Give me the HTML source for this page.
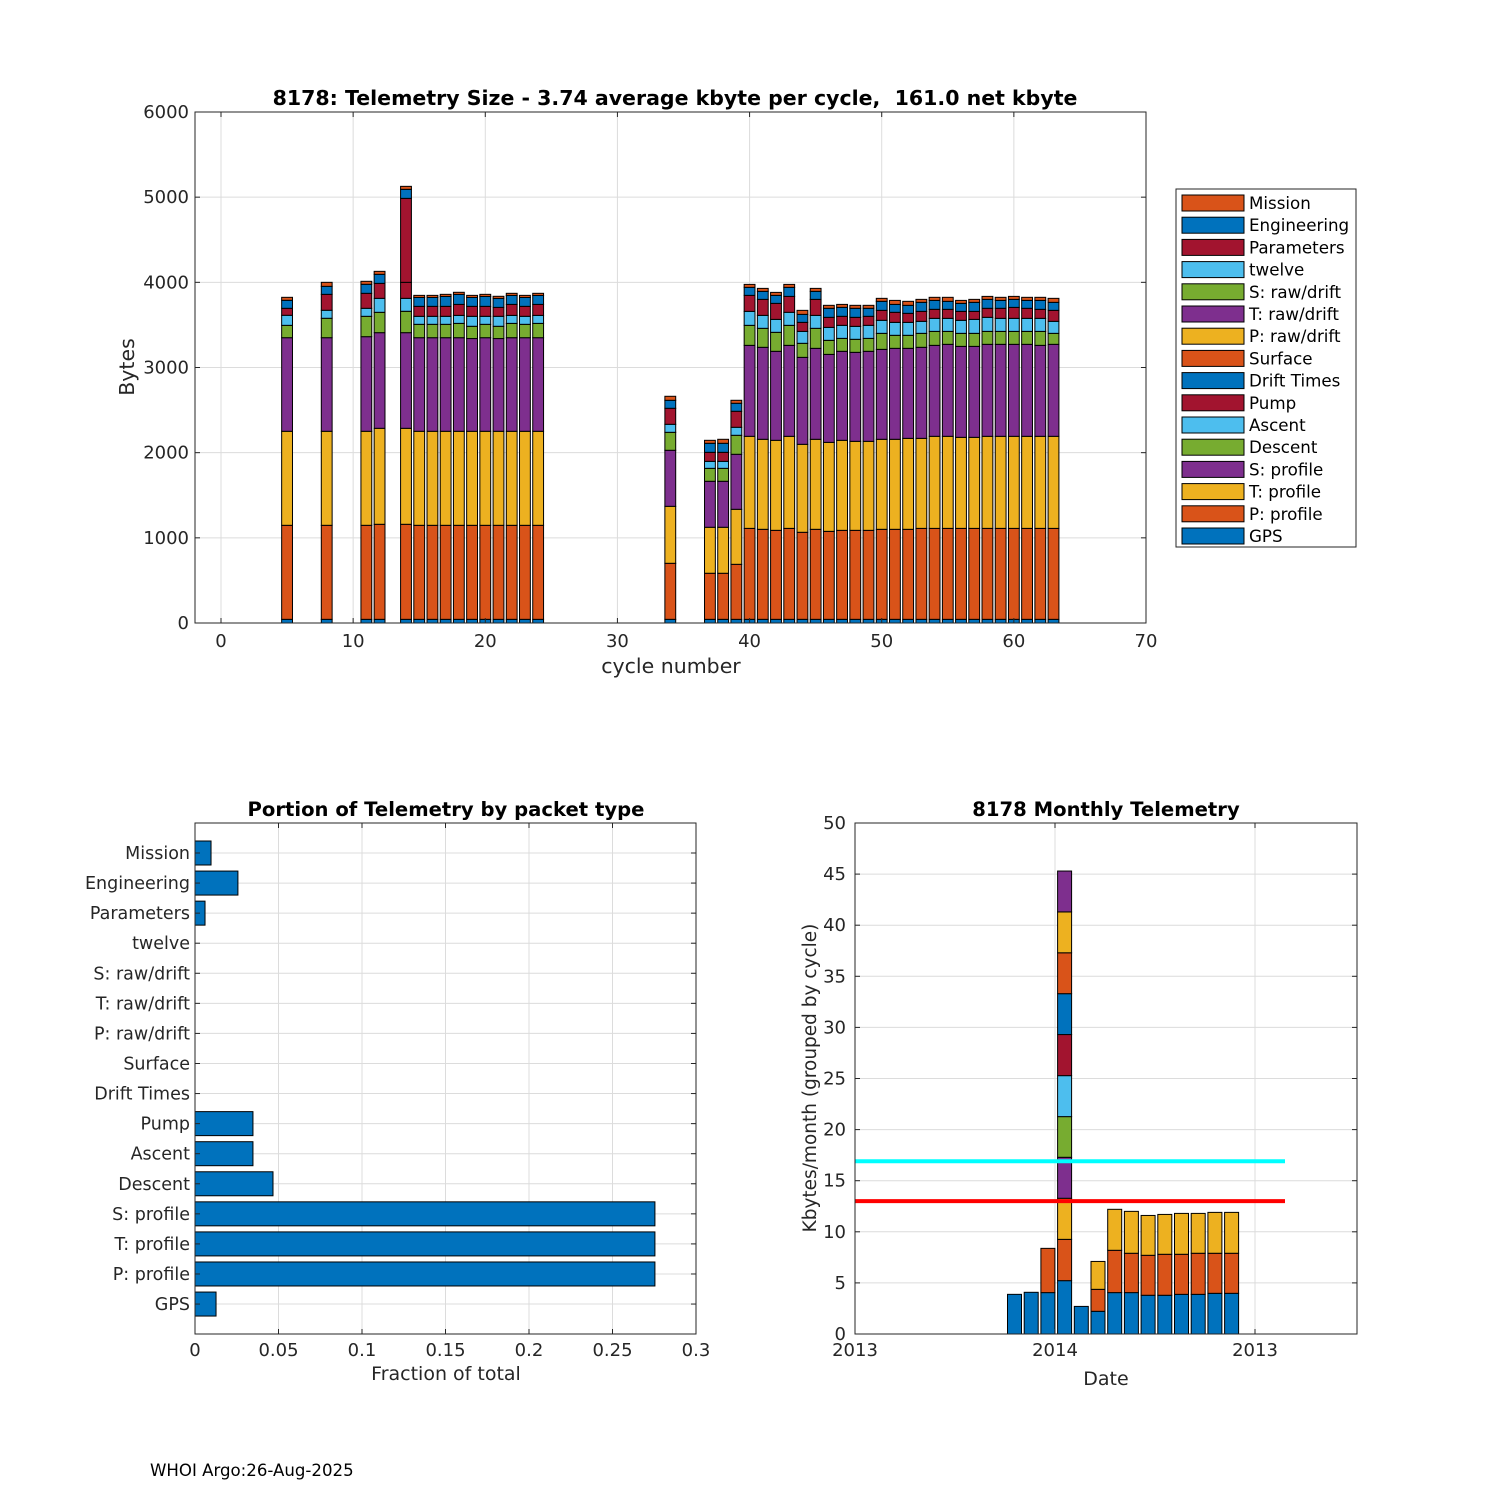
<!DOCTYPE html>
<html><head><meta charset="utf-8"><style>
body{margin:0;background:#fff}
svg{font-family:"DejaVu Sans","Liberation Sans",sans-serif}
text{white-space:pre}
</style></head><body>
<svg id="svg" width="1500" height="1500" viewBox="0 0 1500 1500" xmlns="http://www.w3.org/2000/svg">
<rect width="1500" height="1500" fill="#fff"/>
<g id="top"></g>
<g id="bl"></g>
<g id="br"></g>
<text x="150" y="1476" font-size="16.6" fill="#000">WHOI Argo:26-Aug-2025</text>
</svg>
<script>
// ---------- top chart data (cumulative tops in bytes) ----------
const cycles=[5,8,11,12,14,15,16,17,18,19,20,21,22,23,24,34,37,38,39,40,41,42,43,44,45,46,47,48,49,50,51,52,53,54,55,56,57,58,59,60,61,62,63];
const cumGPS=[43,43,43,43,43,43,43,43,43,43,43,43,43,43,43,43,43,43,43,43,43,43,43,43,43,43,43,43,43,43,43,43,43,43,43,43,43,43,43,43,43,43,43];
const cumPprof=[1147,1147,1147,1159,1159,1147,1147,1147,1147,1147,1147,1147,1147,1147,1147,701,584,584,689,1111,1100,1088,1111,1065,1100,1076,1088,1088,1088,1100,1100,1100,1111,1111,1111,1111,1111,1111,1111,1111,1111,1111,1111];
const cumTprof=[2251,2251,2251,2286,2286,2251,2251,2251,2251,2251,2251,2251,2251,2251,2251,1370,1124,1124,1335,2192,2157,2145,2192,2098,2157,2121,2145,2133,2133,2157,2157,2168,2168,2192,2192,2180,2180,2192,2192,2192,2192,2192,2192];
const cumSprof=[3350,3350,3362,3409,3409,3350,3350,3350,3350,3340,3350,3340,3350,3350,3350,2028,1664,1664,1981,3260,3237,3190,3260,3119,3225,3154,3190,3178,3190,3213,3225,3225,3237,3260,3272,3248,3248,3272,3272,3272,3272,3260,3272];
const cumDescent=[3495,3578,3601,3648,3660,3507,3507,3507,3518,3484,3507,3484,3518,3507,3518,2239,1816,1816,2204,3495,3460,3413,3495,3284,3460,3319,3342,3331,3342,3401,3378,3378,3401,3424,3424,3401,3401,3424,3424,3424,3424,3424,3401];
const cumAscent=[3613,3672,3695,3812,3812,3601,3601,3601,3612,3601,3601,3601,3612,3601,3612,2333,1898,1898,2298,3659,3612,3565,3648,3424,3612,3471,3495,3483,3495,3554,3530,3530,3542,3577,3577,3554,3565,3589,3577,3577,3577,3577,3542];
const cumPump=[3695,3859,3871,3988,4000,3718,3718,3718,3741,3718,3718,3706,3741,3718,3741,2521,2004,2004,2486,3847,3800,3753,3835,3530,3800,3589,3601,3589,3601,3671,3648,3636,3659,3683,3683,3659,3659,3695,3695,3706,3695,3683,3671];
const cumParams=[3695,3859,3871,3988,4986,3718,3718,3718,3741,3718,3718,3706,3741,3718,3741,2521,2004,2004,2486,3847,3800,3753,3835,3530,3800,3589,3601,3589,3601,3671,3648,3636,3659,3683,3683,3659,3659,3695,3695,3706,3695,3683,3671];
const cumEng=[3789,3953,3977,4094,5092,3822,3822,3834,3858,3822,3834,3811,3846,3822,3846,2615,2110,2110,2580,3941,3894,3847,3941,3624,3894,3695,3706,3695,3695,3777,3741,3730,3765,3788,3777,3753,3765,3800,3788,3800,3788,3788,3765];
const cumMission=[3824,4000,4012,4129,5127,3847,3847,3859,3883,3847,3859,3836,3871,3847,3871,2662,2145,2157,2615,3976,3929,3882,3976,3671,3929,3730,3741,3730,3730,3812,3788,3777,3800,3824,3824,3788,3800,3835,3824,3835,3824,3824,3812];
const topXTicks=[0,10,20,30,40,50,60,70];
const topYTicks=[0,1000,2000,3000,4000,5000,6000];
const legendLabels=["Mission","Engineering","Parameters","twelve","S: raw/drift","T: raw/drift","P: raw/drift","Surface","Drift Times","Pump","Ascent","Descent","S: profile","T: profile","P: profile","GPS"];
// ---------- bottom-left data ----------
const packetTypes=["Mission","Engineering","Parameters","twelve","S: raw/drift","T: raw/drift","P: raw/drift","Surface","Drift Times","Pump","Ascent","Descent","S: profile","T: profile","P: profile","GPS"];
const packetFractions=[0.0096,0.0257,0.006,0,0,0,0,0,0,0.0347,0.0347,0.0467,0.2754,0.2754,0.2754,0.0126];
const fracTicks=[0,0.05,0.1,0.15,0.2,0.25,0.3];
// ---------- bottom-right data (cumulative tops, kbytes) ----------
const monthIdx=[0,1,2,3,4,5,6,7,8,9,10,11,12,13];
const monthCum=[[3.88],[4.08],[4.05,8.38],[5.22,9.26,13.28,17.29,21.27,25.28,29.3,33.3,37.3,41.3,45.3],[2.7],[2.22,4.37,7.1],[4.05,8.19,12.2],[4.05,7.9,12.0],[3.79,7.7,11.6],[3.79,7.8,11.7],[3.88,7.8,11.8],[3.88,7.9,11.8],[3.98,7.9,11.9],[3.98,7.9,11.9]];
const cyanLevel=16.9, redLevel=13.0;
const monthYTicks=[0,5,10,15,20,25,30,35,40,45,50];
const dateTicks=[{v:0,l:"2013"},{v:12,l:"2014"},{v:24,l:"2013"}];

const NS="http://www.w3.org/2000/svg";
const C=["#0072BD","#D95319","#EDB120","#7E2F8E","#77AC30","#4DBEEE","#A2142F"];
const TF=18, AF=20.5;
function mk(p,tag,a,txt){const e=document.createElementNS(NS,tag);for(const k in a)e.setAttribute(k,a[k]);if(txt!==undefined)e.textContent=txt;p.appendChild(e);return e;}

// ===== TOP =====
(function(){
const g=document.getElementById('top');
const L=195,R=1146,T=112,B=623;
const xs=v=>221+(v)*(1146-221)/70, ys=v=>B-v*(B-T)/6000;
topXTicks.forEach(t=>{const l=mk(g,'line',{x1:xs(t),x2:xs(t),y1:T,y2:B,stroke:'#dcdcdc'});});
topYTicks.forEach(t=>{const l=mk(g,'line',{x1:L,x2:R,y1:ys(t),y2:ys(t),stroke:'#dcdcdc'});});
const series=[cumGPS,cumPprof,cumTprof,cumSprof,cumDescent,cumAscent,cumPump,cumParams,cumEng,cumMission];
const cols=[C[0],C[1],C[2],C[3],C[4],C[5],C[6],C[6],C[0],C[1]];
const bw=0.82*(1146-221)/70;
cycles.forEach((c,i)=>{let prev=0;series.forEach((s,k)=>{const v=s[i];if(v>prev){const r=mk(g,'rect',{x:xs(c)-bw/2,y:ys(v),width:bw,height:ys(prev)-ys(v),fill:cols[k],stroke:'#000','stroke-width':1});

}prev=Math.max(prev,v);});});
mk(g,'rect',{x:L,y:T,width:R-L,height:B-T,fill:'none',stroke:'#262626'});
topXTicks.forEach(t=>{mk(g,'line',{x1:xs(t),x2:xs(t),y1:B,y2:B-5,stroke:'#262626'});mk(g,'line',{x1:xs(t),x2:xs(t),y1:T,y2:T+5,stroke:'#262626'});
const e=mk(g,'text',{x:xs(t),y:B+24,'text-anchor':'middle','font-size':TF,fill:'#262626'},t);});
topYTicks.forEach(t=>{mk(g,'line',{x1:L,x2:L+5,y1:ys(t),y2:ys(t),stroke:'#262626'});mk(g,'line',{x1:R,x2:R-5,y1:ys(t),y2:ys(t),stroke:'#262626'});
const e=mk(g,'text',{x:L-6,y:ys(t)+6,'text-anchor':'end','font-size':TF,fill:'#262626'},t);});
let e=mk(g,'text',{x:675,y:105,'text-anchor':'middle','font-size':20.5,'font-weight':'bold',fill:'#000'},'8178: Telemetry Size - 3.74 average kbyte per cycle,  161.0 net kbyte');
e=mk(g,'text',{x:671,y:673,'text-anchor':'middle','font-size':AF,fill:'#262626'},'cycle number');
e=mk(g,'text',{x:0,y:0,transform:'translate(134,367) rotate(-90)','text-anchor':'middle','font-size':AF,fill:'#262626'},'Bytes');
const lg=mk(g,'g',{});
mk(lg,'rect',{x:1176,y:189,width:180,height:358,fill:'#fff',stroke:'#262626'});
const lc=[C[1],C[0],C[6],C[5],C[4],C[3],C[2],C[1],C[0],C[6],C[5],C[4],C[3],C[2],C[1],C[0]];
legendLabels.forEach((lab,i)=>{const y=203+i*22.2;const en=mk(lg,'g',{});
mk(en,'rect',{x:1182,y:y-8,width:62,height:16,fill:lc[i],stroke:'#000'});mk(en,'text',{x:1249,y:y+6,'font-size':16.7,fill:'#000'},lab);});
})();

// ===== BOTTOM LEFT =====
(function(){
const g=document.getElementById('bl');
const L=195,R=696,T=823,B=1334;
const xs=v=>L+v*(R-L)/0.3, ys=i=>853+i*30.07;
fracTicks.forEach(t=>{mk(g,'line',{x1:xs(t),x2:xs(t),y1:T,y2:B,stroke:'#dcdcdc'});});
packetTypes.forEach((p,i)=>{mk(g,'line',{x1:L,x2:R,y1:ys(i),y2:ys(i),stroke:'#dcdcdc'});});
packetTypes.forEach((p,i)=>{const v=packetFractions[i];if(v>0){const r=mk(g,'rect',{x:xs(0),y:ys(i)-12,width:xs(v)-xs(0),height:24,fill:C[0],stroke:'#000'});

}
const e=mk(g,'text',{x:L-5,y:ys(i)+6,'text-anchor':'end','font-size':17.5,fill:'#262626'},p);
mk(g,'line',{x1:L,x2:L+5,y1:ys(i),y2:ys(i),stroke:'#262626'});mk(g,'line',{x1:R,x2:R-5,y1:ys(i),y2:ys(i),stroke:'#262626'});});
mk(g,'rect',{x:L,y:T,width:R-L,height:B-T,fill:'none',stroke:'#262626'});
fracTicks.forEach(t=>{mk(g,'line',{x1:xs(t),x2:xs(t),y1:B,y2:B-5,stroke:'#262626'});mk(g,'line',{x1:xs(t),x2:xs(t),y1:T,y2:T+5,stroke:'#262626'});
const e=mk(g,'text',{x:xs(t),y:B+22,'text-anchor':'middle','font-size':TF,fill:'#262626'},t);});
let e=mk(g,'text',{x:446,y:816,'text-anchor':'middle','font-size':19.6,'font-weight':'bold',fill:'#000'},'Portion of Telemetry by packet type');
e=mk(g,'text',{x:446,y:1380,'text-anchor':'middle','font-size':19,fill:'#262626'},'Fraction of total');
})();

// ===== BOTTOM RIGHT =====
(function(){
const g=document.getElementById('br');
const L=855,R=1357,T=823,B=1334;
const xs=m=>1014.5+m*16.7, xd=v=>855+v*(1055-855)/12, ys=v=>B-v*(B-T)/50;
dateTicks.forEach(t=>{mk(g,'line',{x1:xd(t.v),x2:xd(t.v),y1:T,y2:B,stroke:'#dcdcdc'});});
monthYTicks.forEach(t=>{mk(g,'line',{x1:L,x2:R,y1:ys(t),y2:ys(t),stroke:'#dcdcdc'});});
monthIdx.forEach((m,i)=>{let prev=0;monthCum[i].forEach((v,k)=>{const r=mk(g,'rect',{x:xs(m)-7,y:ys(v),width:14,height:ys(prev)-ys(v),fill:C[k%7],stroke:'#000'});

prev=v;});});
let e=mk(g,'line',{x1:L,x2:1285,y1:ys(cyanLevel),y2:ys(cyanLevel),stroke:'#00FFFF','stroke-width':4});
e=mk(g,'line',{x1:L,x2:1285,y1:ys(redLevel),y2:ys(redLevel),stroke:'#FF0000','stroke-width':4});
mk(g,'rect',{x:L,y:T,width:R-L,height:B-T,fill:'none',stroke:'#262626'});
dateTicks.forEach(t=>{mk(g,'line',{x1:xd(t.v),x2:xd(t.v),y1:B,y2:B-5,stroke:'#262626'});mk(g,'line',{x1:xd(t.v),x2:xd(t.v),y1:T,y2:T+5,stroke:'#262626'});
const e=mk(g,'text',{x:xd(t.v),y:B+22,'text-anchor':'middle','font-size':TF,fill:'#262626'},t.l);});
monthYTicks.forEach(t=>{mk(g,'line',{x1:L,x2:L+5,y1:ys(t),y2:ys(t),stroke:'#262626'});mk(g,'line',{x1:R,x2:R-5,y1:ys(t),y2:ys(t),stroke:'#262626'});
const e=mk(g,'text',{x:L-9,y:ys(t)+6,'text-anchor':'end','font-size':TF,fill:'#262626'},t);});
e=mk(g,'text',{x:1106,y:816,'text-anchor':'middle','font-size':19.6,'font-weight':'bold',fill:'#000'},'8178 Monthly Telemetry');
e=mk(g,'text',{x:1106,y:1385,'text-anchor':'middle','font-size':19,fill:'#262626'},'Date');
e=mk(g,'text',{x:0,y:0,transform:'translate(816,1078) rotate(-90)','text-anchor':'middle','font-size':18.5,fill:'#262626'},'Kbytes/month (grouped by cycle)');
})();
</script>
</body></html>
